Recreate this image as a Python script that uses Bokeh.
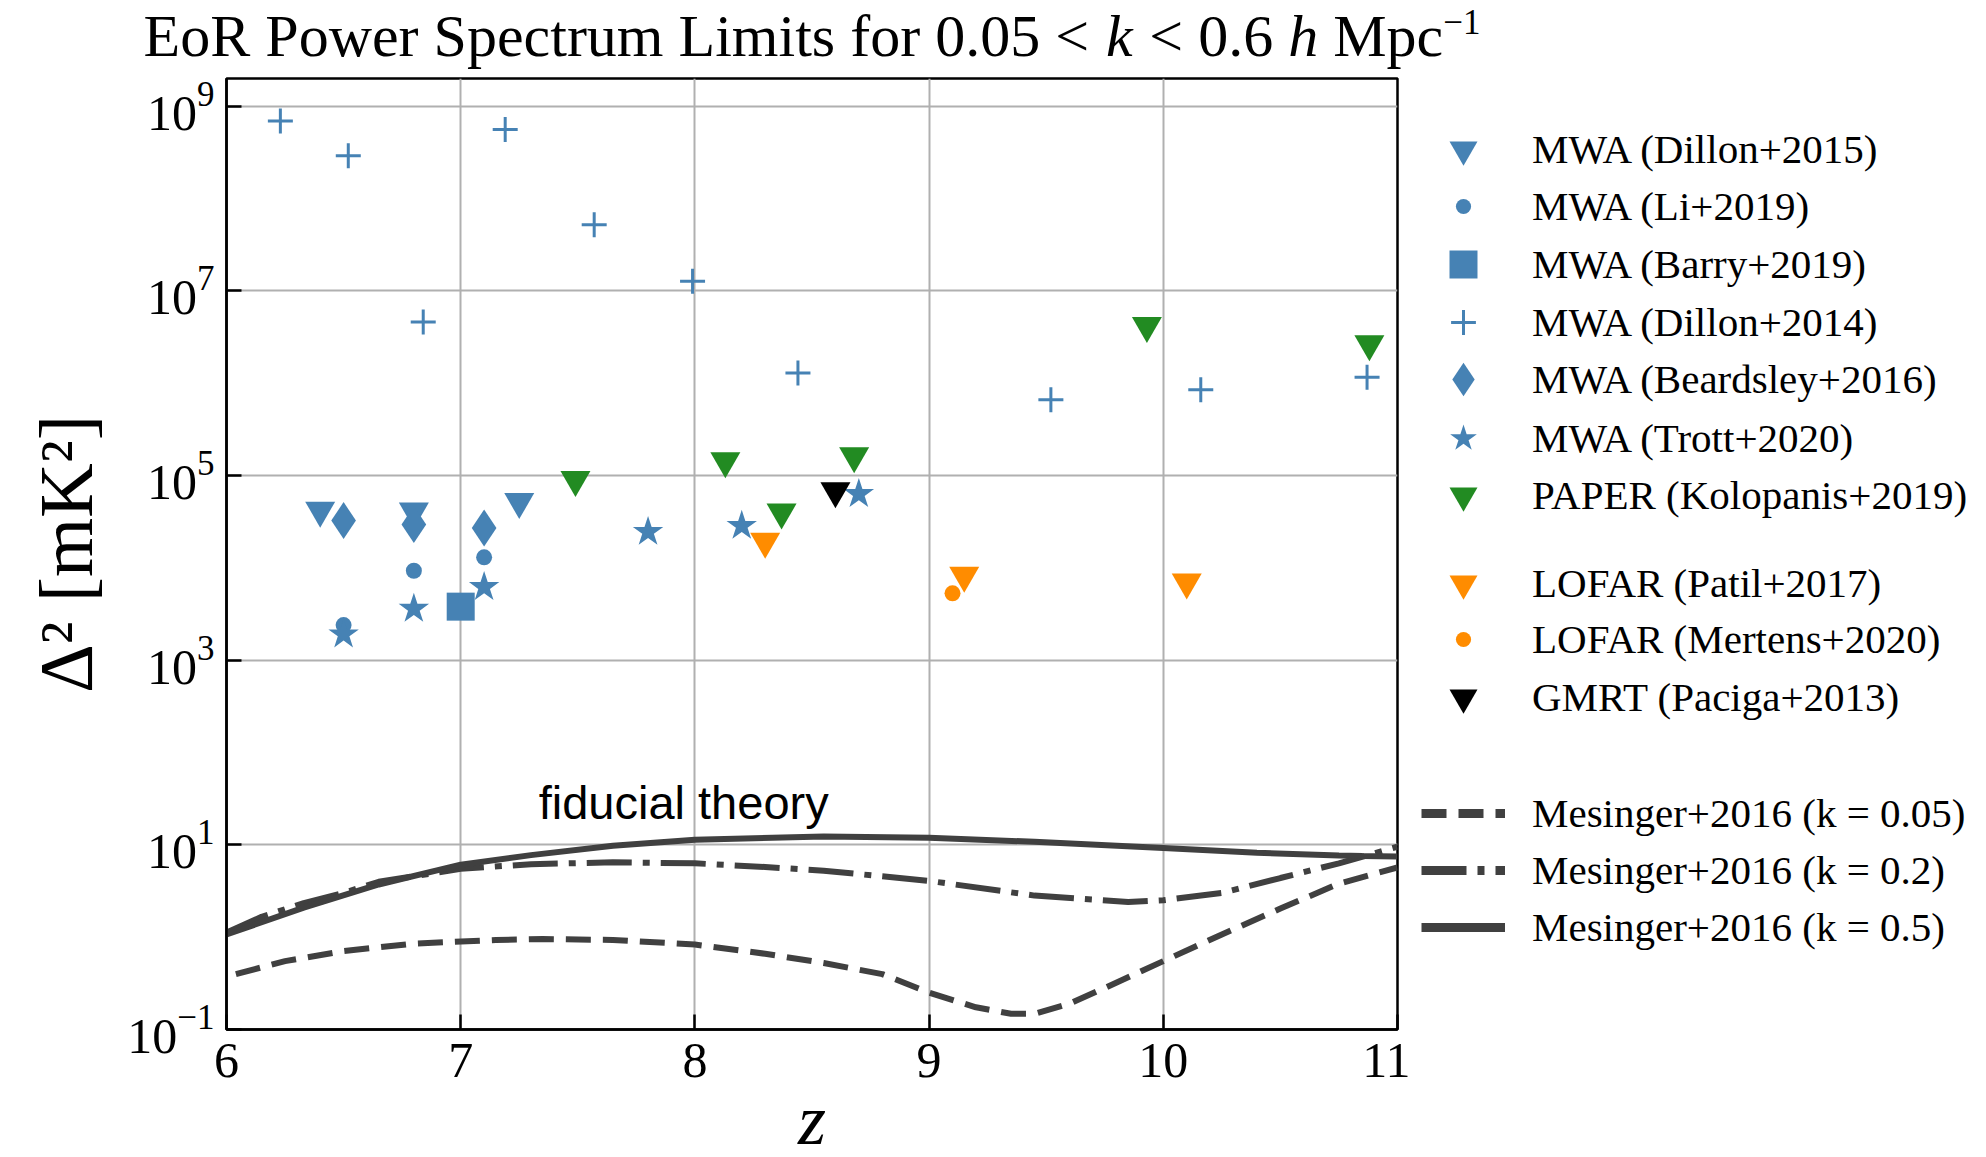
import numpy as np
from bokeh.plotting import figure
from bokeh.layouts import column, row
from bokeh.models import (FixedTicker, Legend, LegendItem, LogTickFormatter,
                          Range1d, Label)
from bokeh.embed import file_html
from bokeh.resources import INLINE

# ---------------- data ----------------
dillon15_z = [6.40, 6.80, 7.25]
dillon15_d = [4.2e4, 4.1e4, 5.2e4]
li19_z = [6.50, 6.80, 7.10]
li19_d = [2.4e3, 9.3e3, 1.3e4]
barry19_z = [7.00]
barry19_d = [3.8e3]
dillon14_z = [6.23, 6.52, 6.84, 7.19, 7.57, 7.99, 8.44, 9.52, 10.16, 10.87]
dillon14_d = [6.9e8, 2.9e8, 4.6e6, 5.6e8, 5.2e7, 1.27e7, 1.29e6, 6.6e5, 8.5e5, 1.16e6]
beardsley16_z = [6.50, 6.80, 7.10]
beardsley16_d = [3.25e4, 2.95e4, 2.7e4]
trott20_z = [6.50, 6.80, 7.10, 7.80, 8.20, 8.70]
trott20_d = [1.9e3, 3.6e3, 6.2e3, 2.45e4, 2.85e4, 6.3e4]
kolopanis19_z = [7.49, 8.13, 8.37, 8.68, 9.93, 10.88]
kolopanis19_d = [9.0e4, 1.44e5, 4.0e4, 1.63e5, 4.2e6, 2.67e6]
patil17_z = [8.30, 9.15, 10.10]
patil17_d = [1.93e4, 8.3e3, 7.0e3]
mertens20_z = [9.10]
mertens20_d = [5.3e3]
paciga13_z = [8.60]
paciga13_d = [6.8e4]

# Mesinger+2016 theory curves
m005_z = [6.04, 6.25, 6.50, 6.80, 7.15, 7.35, 7.65, 8.00, 8.30, 8.55, 8.80,
          9.00, 9.20, 9.35, 9.45, 9.60, 9.75, 10.00, 10.25, 10.50, 10.75, 11.00]
m005_d = [0.398, 0.55, 0.708, 0.851, 0.933, 0.955, 0.933, 0.832, 0.661, 0.525, 0.398,
          0.251, 0.174, 0.148, 0.148, 0.191, 0.282, 0.55, 1.07, 2.04, 3.80, 5.69]
m02_z = [6.00, 6.15, 6.33, 6.50, 6.65, 7.00, 7.30, 7.65, 8.00, 8.30, 8.55,
         9.00, 9.45, 9.85, 10.00, 10.25, 10.50, 10.75, 11.00]
m02_d = [1.12, 1.66, 2.34, 3.02, 3.98, 5.50, 6.17, 6.46, 6.31, 5.75, 5.25,
         4.07, 2.82, 2.40, 2.51, 3.02, 4.37, 6.31, 9.55]
m05_z = [6.00, 6.33, 6.65, 7.00, 7.30, 7.65, 8.00, 8.55, 9.00, 9.45, 10.00,
         10.40, 10.75, 10.85, 11.00]
m05_d = [1.07, 2.09, 3.72, 6.10, 7.74, 9.77, 11.35, 12.3, 11.9, 10.8, 9.23,
         8.22, 7.67, 7.59, 7.50]

x_ticks = [6, 7, 8, 9, 10, 11]
y_ticks = [1e-1, 1e1, 1e3, 1e5, 1e7, 1e9]

# title pieces: (text, italic?, superscript?, space after in em)
title_parts = [("EoR Power Spectrum Limits for 0.05 <", False, False, 0.28),
               ("k", True, False, 0.28),
               ("< 0.6", False, False, 0.25),
               ("h", True, False, 0.25),
               ("Mpc", False, False, 0.0),
               ("\u22121", False, True, 0.0)]

BLUE = "#4682b4"
GREEN = "#228b22"
ORANGE = "#ff8c00"
BLACK = "#000000"
CURVE = "#404040"
SERIF = "Liberation Serif"

W, H = 1986, 1157
TH = 74                      # height of the title strip
FL, FR, FT, FB = 226, 1397, 78, 1029   # frame in page pixels
MW = 1410                    # width of the main figure
LW = W - MW                  # width of the legend panel

# ---------------- title strip ----------------
# approximate advance widths (em/1000) of Liberation Serif, used to lay the pieces out
ADV = {"E": 611, "o": 500, "R": 667, " ": 250, "P": 556, "w": 722, "e": 444, "r": 333,
       "S": 556, "p": 500, "c": 444, "t": 278, "u": 500, "m": 778, "L": 611, "i": 278,
       "s": 389, "f": 333, "0": 500, ".": 250, "5": 500, "<": 564, "6": 500, "M": 889,
       "1": 500, "\u2212": 564}
ADV_IT = {"k": 444, "h": 500}
TF = 60           # title font size
SF = 35           # superscript font size


def piece_width(txt, italic, sup, gap):
    size = SF if sup else TF
    table = ADV_IT if italic else ADV
    return sum(table.get(ch, 500) for ch in txt) / 1000.0 * size + gap * TF


total = sum(piece_width(*pp) for pp in title_parts)
x_left = (FL + FR) / 2 - total / 2
pt = figure(frame_width=W, frame_height=TH, x_range=Range1d(0, W), y_range=Range1d(0, TH),
            x_axis_location=None, y_axis_location=None, output_backend="svg",
            toolbar_location=None, min_border_left=0, min_border_right=0,
            min_border_top=0, min_border_bottom=0, outline_line_color=None)
pt.grid.visible = False
BASE = 57                     # title baseline, page pixels from the top
for txt, italic, sup, gap in title_parts:
    size = SF if sup else TF
    base = 34 if sup else BASE
    pt.add_layout(Label(x=x_left, y=TH - base + 0.36 * size, text=txt, text_font=SERIF,
                        text_font_size=f"{size}px", text_color="black",
                        text_font_style="italic" if italic else "normal",
                        text_align="left", text_baseline="alphabetic"))
    x_left += piece_width(txt, italic, sup, gap)

# ---------------- main plot ----------------
p = figure(frame_width=FR - FL, frame_height=FB - FT,
           min_border_left=FL, min_border_right=MW - FR,
           min_border_top=FT - TH, min_border_bottom=H - FB,
           x_range=Range1d(6, 11), y_range=Range1d(0.1, 10 ** 9.3),
           y_axis_type="log", output_backend="svg", toolbar_location=None)

p.outline_line_color = "black"
p.outline_line_width = 2.5

for ax in (p.xaxis[0], p.yaxis[0]):
    ax.major_label_text_font = SERIF
    ax.major_label_text_font_size = "50px"
    ax.major_label_text_color = "black"
    ax.major_tick_in = 15
    ax.major_tick_out = 0
    ax.minor_tick_in = 0
    ax.minor_tick_out = 0
    ax.major_tick_line_width = 2.5
    ax.major_tick_line_color = "black"
    ax.axis_line_width = 2.5
    ax.axis_line_color = "black"
    ax.axis_label_text_font = SERIF
    ax.axis_label_text_color = "black"

p.xaxis.ticker = FixedTicker(ticks=x_ticks)
p.yaxis.ticker = FixedTicker(ticks=y_ticks)
p.yaxis.formatter = LogTickFormatter()
p.xaxis.major_label_standoff = 14
p.yaxis.major_label_standoff = 12

p.xaxis.axis_label = "z"
p.xaxis.axis_label_text_font_style = "italic"
p.xaxis.axis_label_text_font_size = "72px"
p.xaxis.axis_label_standoff = 0
p.yaxis.axis_label = "\u0394\u00b2 [mK\u00b2]"
p.yaxis.axis_label_text_font_style = "normal"
p.yaxis.axis_label_text_font_size = "76px"
p.yaxis.axis_label_standoff = 16

p.xgrid.grid_line_color = "#b0b0b0"
p.xgrid.grid_line_width = 2
p.ygrid.grid_line_color = "#b0b0b0"
p.ygrid.grid_line_width = 2

DASH = "25 12"
DASHDOT = "45 11 7 11"
p.line(m005_z, m005_d, line_color=CURVE, line_width=6, line_dash=DASH)
p.line(m02_z, m02_d, line_color=CURVE, line_width=6, line_dash=DASHDOT)
p.line(m05_z, m05_d, line_color=CURVE, line_width=6)

STYLE = {
    "d15": dict(marker="inverted_triangle", size=30, fill_color=BLUE, line_color=None),
    "b16": dict(marker="diamond", size=37, fill_color=BLUE, line_color=None),
    "li": dict(marker="circle", size=16, fill_color=BLUE, line_color=None),
    "ba": dict(marker="square", size=28, fill_color=BLUE, line_color=None),
    "d14": dict(marker="cross", size=25, line_color=BLUE, line_width=3),
    "tr": dict(marker="star", size=32, fill_color=BLUE, line_color=None),
    "ko": dict(marker="inverted_triangle", size=30, fill_color=GREEN, line_color=None),
    "pa": dict(marker="inverted_triangle", size=30, fill_color=ORANGE, line_color=None),
    "me": dict(marker="circle", size=16, fill_color=ORANGE, line_color=None),
    "gm": dict(marker="inverted_triangle", size=30, fill_color=BLACK, line_color=None),
}
SERIES = {
    "d15": (dillon15_z, dillon15_d), "b16": (beardsley16_z, beardsley16_d),
    "li": (li19_z, li19_d), "ba": (barry19_z, barry19_d),
    "d14": (dillon14_z, dillon14_d), "tr": (trott20_z, trott20_d),
    "ko": (kolopanis19_z, kolopanis19_d), "pa": (patil17_z, patil17_d),
    "me": (mertens20_z, mertens20_d), "gm": (paciga13_z, paciga13_d),
}
for key in ["d15", "b16", "li", "ba", "d14", "tr", "ko", "pa", "me", "gm"]:
    zz, dd = SERIES[key]
    p.scatter(zz, dd, **STYLE[key])

p.add_layout(Label(x=7.333, y=29.0, text="fiducial theory", text_font="Liberation Sans",
                   text_font_size="47px", text_color="black", text_baseline="alphabetic",
                   text_align="left"))

# ---------------- legend panel (frame aligned with the main frame) ----------------
pl = figure(frame_width=LW, frame_height=FB - FT, x_range=Range1d(0, LW),
            y_range=Range1d(0, FB - FT),
            x_axis_location=None, y_axis_location=None, output_backend="svg",
            toolbar_location=None, min_border_left=0, min_border_right=0,
            min_border_top=FT - TH, min_border_bottom=H - FB, outline_line_color=None)
pl.grid.visible = False

proxies = {}
for key, (zz, dd) in SERIES.items():
    proxies[key] = pl.scatter(zz, dd, visible=False, **STYLE[key])
proxies["m005"] = pl.line(m005_z, m005_d, line_color=CURVE, line_width=9,
                          line_dash=DASH, visible=False)
proxies["m02"] = pl.line(m02_z, m02_d, line_color=CURVE, line_width=9,
                         line_dash=DASHDOT, visible=False)
proxies["m05"] = pl.line(m05_z, m05_d, line_color=CURVE, line_width=9, visible=False)

LEG_X = 1421 - MW
GW = 84
LABEL_H = 47
entries = [
    ("MWA (Dillon+2015)", "d15", 149, 70),
    ("MWA (Li+2019)", "li", 206.5, 38),
    ("MWA (Barry+2019)", "ba", 264, 70),
    ("MWA (Dillon+2014)", "d14", 321.5, 62),
    ("MWA (Beardsley+2016)", "b16", 379, 84),
    ("MWA (Trott+2020)", "tr", 437.5, 70),
    ("PAPER (Kolopanis+2019)", "ko", 494.5, 70),
    ("LOFAR (Patil+2017)", "pa", 583, 70),
    ("LOFAR (Mertens+2020)", "me", 639.5, 38),
    ("GMRT (Paciga+2013)", "gm", 697, 70),
    ("Mesinger+2016 (k = 0.05)", "m005", 812.5, 48),
    ("Mesinger+2016 (k = 0.2)", "m02", 870, 48),
    ("Mesinger+2016 (k = 0.5)", "m05", 927, 48),
]
for label, key, yc, gh in entries:
    box_h = max(gh, LABEL_H)
    leg = Legend(items=[LegendItem(label=label, renderers=[proxies[key]])],
                 location=(LEG_X, FB - yc - box_h / 2),
                 glyph_width=GW, glyph_height=gh, label_standoff=27,
                 padding=0, margin=0, spacing=0,
                 border_line_color=None, background_fill_alpha=0,
                 label_text_font=SERIF, label_text_font_size="41px",
                 label_text_color="black", label_height=20)
    pl.add_layout(leg)

layout = column(pt, row(p, pl))
open("out.html", "w").write(file_html(layout, INLINE))
